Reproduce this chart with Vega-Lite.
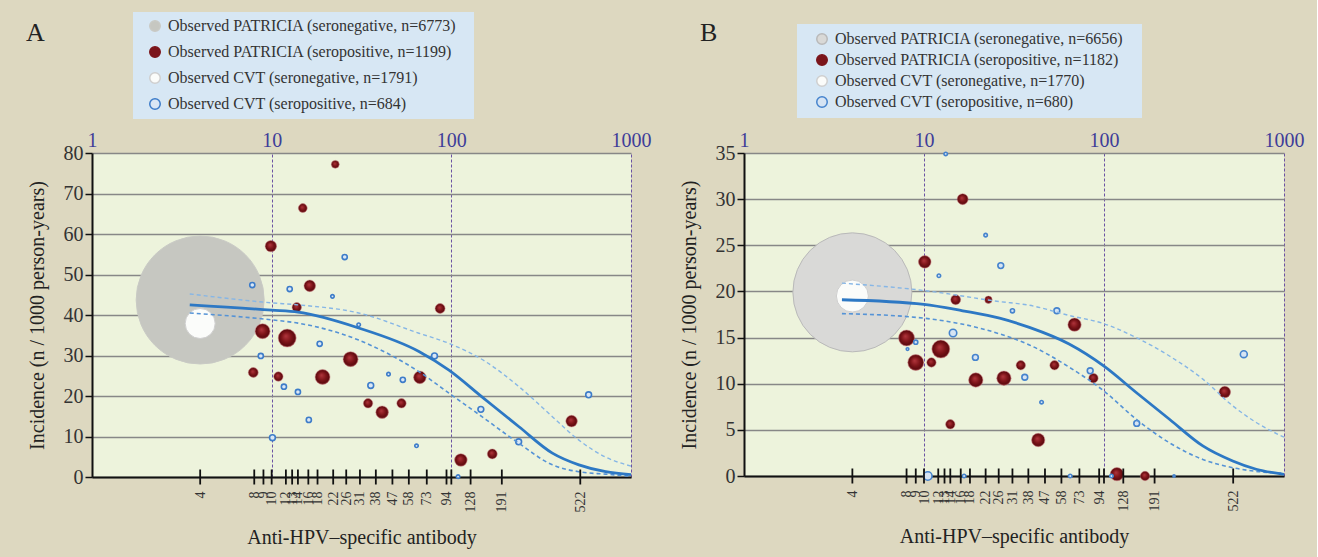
{
  "$schema": "https://vega.github.io/schema/vega-lite/v6.json",
  "background": "#ddd8c0",
  "padding": {"left": 26, "top": 12, "right": 13, "bottom": 10},
  "bounds": "flush",
  "spacing": 113,
  "resolve": {"scale": {"x": "independent", "y": "independent", "fill": "independent", "stroke": "independent", "size": "independent"}},
  "config": {
    "font": "Liberation Serif",
    "view": {"fill": "#edf3dc", "stroke": null},
    "axis": {"labelFont": "Liberation Serif", "titleFont": "Liberation Serif", "titleFontWeight": "normal", "labelColor": "#333333", "titleColor": "#222222"},
    "legend": {"labelFont": "Liberation Serif", "labelFontSize": 16, "labelColor": "#333333", "labelLimit": 600, "symbolType": "circle", "symbolSize": 110, "symbolStrokeWidth": 1.5, "fillColor": "#d7e7f4",
      "titleOrient": "right", "titlePadding": 8, "titleOpacity": 0, "titleFontSize": 16, "titleFont": "Liberation Serif"},
    "title": {"font": "Liberation Serif", "fontSize": 26, "fontWeight": "normal", "color": "#222222"}
  },
  "datasets": {
    "ticks": [
      {"ab": 4}, {"ab": 8}, {"ab": 9}, {"ab": 10}, {"ab": 12}, {"ab": 13}, {"ab": 14}, {"ab": 16}, {"ab": 18}, {"ab": 22},
      {"ab": 26}, {"ab": 31}, {"ab": 38}, {"ab": 47}, {"ab": 58}, {"ab": 73}, {"ab": 94}, {"ab": 100}, {"ab": 128}, {"ab": 191}, {"ab": 522}
    ],
    "A_pts": [
      {"series": "PATRICIA_neg", "ab": 4, "inc": 43.7, "n": 6773},
      {"series": "CVT_neg", "ab": 4, "inc": 37.9, "n": 372},
      {"series": "PATRICIA_pos", "ab": 22.6, "inc": 77.2, "n": 26},
      {"series": "PATRICIA_pos", "ab": 14.9, "inc": 66.4, "n": 33},
      {"series": "PATRICIA_pos", "ab": 9.9, "inc": 57.0, "n": 54},
      {"series": "PATRICIA_pos", "ab": 16.3, "inc": 47.2, "n": 56},
      {"series": "PATRICIA_pos", "ab": 13.8, "inc": 41.9, "n": 37},
      {"series": "PATRICIA_pos", "ab": 86.6, "inc": 41.6, "n": 41},
      {"series": "PATRICIA_pos", "ab": 8.9, "inc": 36.0, "n": 93},
      {"series": "PATRICIA_pos", "ab": 12.2, "inc": 34.3, "n": 134},
      {"series": "PATRICIA_pos", "ab": 27.5, "inc": 29.1, "n": 93},
      {"series": "PATRICIA_pos", "ab": 7.9, "inc": 25.8, "n": 41},
      {"series": "PATRICIA_pos", "ab": 10.9, "inc": 24.8, "n": 37},
      {"series": "PATRICIA_pos", "ab": 19.2, "inc": 24.7, "n": 93},
      {"series": "PATRICIA_pos", "ab": 66.8, "inc": 24.6, "n": 66},
      {"series": "PATRICIA_pos", "ab": 34.4, "inc": 18.2, "n": 37},
      {"series": "PATRICIA_pos", "ab": 52.8, "inc": 18.2, "n": 37},
      {"series": "PATRICIA_pos", "ab": 41.2, "inc": 16.0, "n": 66},
      {"series": "PATRICIA_pos", "ab": 113, "inc": 4.2, "n": 66},
      {"series": "PATRICIA_pos", "ab": 169, "inc": 5.7, "n": 41},
      {"series": "PATRICIA_pos", "ab": 467, "inc": 13.8, "n": 56},
      {"series": "CVT_pos", "ab": 25.5, "inc": 54.3, "n": 11},
      {"series": "CVT_pos", "ab": 7.8, "inc": 47.4, "n": 11},
      {"series": "CVT_pos", "ab": 12.6, "inc": 46.4, "n": 11},
      {"series": "CVT_pos", "ab": 21.8, "inc": 44.6, "n": 5},
      {"series": "CVT_pos", "ab": 30.5, "inc": 37.6, "n": 5},
      {"series": "CVT_pos", "ab": 18.5, "inc": 32.9, "n": 11},
      {"series": "CVT_pos", "ab": 8.7, "inc": 29.9, "n": 11},
      {"series": "CVT_pos", "ab": 11.7, "inc": 22.3, "n": 11},
      {"series": "CVT_pos", "ab": 14.0, "inc": 21.0, "n": 11},
      {"series": "CVT_pos", "ab": 35.6, "inc": 22.6, "n": 14},
      {"series": "CVT_pos", "ab": 16.1, "inc": 14.1, "n": 11},
      {"series": "CVT_pos", "ab": 10.1, "inc": 9.7, "n": 14},
      {"series": "CVT_pos", "ab": 44.7, "inc": 25.4, "n": 5},
      {"series": "CVT_pos", "ab": 53.7, "inc": 24.0, "n": 11},
      {"series": "CVT_pos", "ab": 80.6, "inc": 29.9, "n": 14},
      {"series": "CVT_pos", "ab": 64, "inc": 7.7, "n": 5},
      {"series": "CVT_pos", "ab": 109, "inc": 0.1, "n": 5},
      {"series": "CVT_pos", "ab": 146, "inc": 16.7, "n": 14},
      {"series": "CVT_pos", "ab": 237, "inc": 8.7, "n": 14},
      {"series": "CVT_pos", "ab": 581, "inc": 20.3, "n": 14}
    ],
    "A_curves": [
      {"curve": "fit", "ab": 3.5, "inc": 42.5}, {"curve": "fit", "ab": 10, "inc": 41.2}, {"curve": "fit", "ab": 14, "inc": 40.7},
      {"curve": "fit", "ab": 30.5, "inc": 36.8}, {"curve": "fit", "ab": 66, "inc": 31.0}, {"curve": "fit", "ab": 97, "inc": 26.4},
      {"curve": "fit", "ab": 148, "inc": 19.8}, {"curve": "fit", "ab": 238, "inc": 12.4}, {"curve": "fit", "ab": 365, "inc": 5.9},
      {"curve": "fit", "ab": 513, "inc": 3.0}, {"curve": "fit", "ab": 723, "inc": 1.3}, {"curve": "fit", "ab": 1000, "inc": 0.6},
      {"curve": "upper", "ab": 3.5, "inc": 45.2}, {"curve": "upper", "ab": 10, "inc": 43.0}, {"curve": "upper", "ab": 14, "inc": 42.5},
      {"curve": "upper", "ab": 30.5, "inc": 40.5}, {"curve": "upper", "ab": 66, "inc": 35.5}, {"curve": "upper", "ab": 97, "inc": 33.0},
      {"curve": "upper", "ab": 155, "inc": 28.5}, {"curve": "upper", "ab": 238, "inc": 22.3}, {"curve": "upper", "ab": 365, "inc": 14.9},
      {"curve": "upper", "ab": 513, "inc": 9.1}, {"curve": "upper", "ab": 723, "inc": 4.9}, {"curve": "upper", "ab": 1000, "inc": 2.7},
      {"curve": "lower", "ab": 3.5, "inc": 40.5}, {"curve": "lower", "ab": 10, "inc": 38.8}, {"curve": "lower", "ab": 14, "inc": 38.0},
      {"curve": "lower", "ab": 30.5, "inc": 33.8}, {"curve": "lower", "ab": 66, "inc": 26.0}, {"curve": "lower", "ab": 97, "inc": 20.7},
      {"curve": "lower", "ab": 148, "inc": 14.9}, {"curve": "lower", "ab": 238, "inc": 8.3}, {"curve": "lower", "ab": 365, "inc": 3.0},
      {"curve": "lower", "ab": 513, "inc": 1.3}, {"curve": "lower", "ab": 723, "inc": 0.7}, {"curve": "lower", "ab": 1000, "inc": 0.2}
    ],
    "B_pts": [
      {"series": "PATRICIA_neg", "ab": 4, "inc": 19.9, "n": 5854},
      {"series": "CVT_neg", "ab": 4, "inc": 19.5, "n": 423},
      {"series": "PATRICIA_pos", "ab": 16.4, "inc": 30.0, "n": 50},
      {"series": "PATRICIA_pos", "ab": 10.1, "inc": 23.2, "n": 66},
      {"series": "PATRICIA_pos", "ab": 15.0, "inc": 19.1, "n": 41},
      {"series": "PATRICIA_pos", "ab": 22.8, "inc": 19.1, "n": 23},
      {"series": "PATRICIA_pos", "ab": 8.0, "inc": 14.95, "n": 106},
      {"series": "PATRICIA_pos", "ab": 12.4, "inc": 13.75, "n": 134},
      {"series": "PATRICIA_pos", "ab": 9.0, "inc": 12.3, "n": 106},
      {"series": "PATRICIA_pos", "ab": 11.0, "inc": 12.3, "n": 37},
      {"series": "PATRICIA_pos", "ab": 34.5, "inc": 12.0, "n": 37},
      {"series": "PATRICIA_pos", "ab": 19.4, "inc": 10.4, "n": 86},
      {"series": "PATRICIA_pos", "ab": 27.8, "inc": 10.6, "n": 86},
      {"series": "PATRICIA_pos", "ab": 14.0, "inc": 5.6, "n": 37},
      {"series": "PATRICIA_pos", "ab": 68.6, "inc": 16.4, "n": 74},
      {"series": "PATRICIA_pos", "ab": 53.1, "inc": 12.0, "n": 37},
      {"series": "PATRICIA_pos", "ab": 87.4, "inc": 10.6, "n": 37},
      {"series": "PATRICIA_pos", "ab": 43.1, "inc": 3.9, "n": 74},
      {"series": "PATRICIA_pos", "ab": 118, "inc": 0.2, "n": 74},
      {"series": "PATRICIA_pos", "ab": 169, "inc": 0, "n": 37},
      {"series": "PATRICIA_pos", "ab": 469, "inc": 9.1, "n": 56},
      {"series": "CVT_pos", "ab": 13.2, "inc": 34.9, "n": 5},
      {"series": "CVT_pos", "ab": 22.0, "inc": 26.1, "n": 5},
      {"series": "CVT_pos", "ab": 12.1, "inc": 21.7, "n": 5},
      {"series": "CVT_pos", "ab": 26.7, "inc": 22.8, "n": 14},
      {"series": "CVT_pos", "ab": 31.0, "inc": 17.9, "n": 7},
      {"series": "CVT_pos", "ab": 14.5, "inc": 15.5, "n": 23},
      {"series": "CVT_pos", "ab": 9.0, "inc": 14.5, "n": 7},
      {"series": "CVT_pos", "ab": 8.1, "inc": 13.75, "n": 3},
      {"series": "CVT_pos", "ab": 19.3, "inc": 12.85, "n": 14},
      {"series": "CVT_pos", "ab": 36.3, "inc": 10.7, "n": 14},
      {"series": "CVT_pos", "ab": 10.5, "inc": 0, "n": 30},
      {"series": "CVT_pos", "ab": 16.7, "inc": 0, "n": 5},
      {"series": "CVT_pos", "ab": 54.7, "inc": 17.9, "n": 14},
      {"series": "CVT_pos", "ab": 45, "inc": 8.0, "n": 5},
      {"series": "CVT_pos", "ab": 83.8, "inc": 11.4, "n": 14},
      {"series": "CVT_pos", "ab": 64.9, "inc": 0, "n": 5},
      {"series": "CVT_pos", "ab": 110, "inc": 0, "n": 5},
      {"series": "CVT_pos", "ab": 152, "inc": 5.7, "n": 14},
      {"series": "CVT_pos", "ab": 245, "inc": 0, "n": 2},
      {"series": "CVT_pos", "ab": 598, "inc": 13.2, "n": 20}
    ],
    "B_curves": [
      {"curve": "fit", "ab": 3.5, "inc": 19.1}, {"curve": "fit", "ab": 10, "inc": 18.6}, {"curve": "fit", "ab": 16.4, "inc": 17.9},
      {"curve": "fit", "ab": 26.3, "inc": 17.1}, {"curve": "fit", "ab": 38.5, "inc": 16.1}, {"curve": "fit", "ab": 64, "inc": 14.3},
      {"curve": "fit", "ab": 100, "inc": 11.9}, {"curve": "fit", "ab": 151, "inc": 9.05}, {"curve": "fit", "ab": 231, "inc": 6.15},
      {"curve": "fit", "ab": 354, "inc": 3.26}, {"curve": "fit", "ab": 519, "inc": 1.63}, {"curve": "fit", "ab": 701, "inc": 0.73},
      {"curve": "fit", "ab": 1000, "inc": 0.18},
      {"curve": "upper", "ab": 3.5, "inc": 20.9}, {"curve": "upper", "ab": 10, "inc": 20.1}, {"curve": "upper", "ab": 26.3, "inc": 18.9},
      {"curve": "upper", "ab": 38.5, "inc": 18.5}, {"curve": "upper", "ab": 64, "inc": 17.4}, {"curve": "upper", "ab": 100, "inc": 16.5},
      {"curve": "upper", "ab": 151, "inc": 15.0}, {"curve": "upper", "ab": 231, "inc": 13.0}, {"curve": "upper", "ab": 354, "inc": 10.5},
      {"curve": "upper", "ab": 519, "inc": 7.6}, {"curve": "upper", "ab": 701, "inc": 5.8}, {"curve": "upper", "ab": 1000, "inc": 4.2},
      {"curve": "lower", "ab": 3.5, "inc": 17.6}, {"curve": "lower", "ab": 10, "inc": 17.1}, {"curve": "lower", "ab": 26.3, "inc": 15.4},
      {"curve": "lower", "ab": 38.5, "inc": 14.2}, {"curve": "lower", "ab": 64, "inc": 11.8}, {"curve": "lower", "ab": 100, "inc": 9.2},
      {"curve": "lower", "ab": 151, "inc": 6.15}, {"curve": "lower", "ab": 231, "inc": 3.6}, {"curve": "lower", "ab": 354, "inc": 1.8},
      {"curve": "lower", "ab": 519, "inc": 0.9}, {"curve": "lower", "ab": 701, "inc": 0.5}, {"curve": "lower", "ab": 1000, "inc": 0.3}
    ]
  },
  "hconcat": [
    {
      "width": 539,
      "height": 324,
      "title": {"text": "A", "anchor": "start", "frame": "group", "dx": -66, "dy": 38},
      "layer": [
        {
          "data": {"name": "A_pts"},
          "transform": [{"filter": "datum.series == 'PATRICIA_neg'"}],
          "mark": {"type": "circle", "opacity": 1, "strokeWidth": 1},
          "encoding": {
            "x": {"field": "ab", "type": "quantitative", "scale": {"type": "log", "domain": [1, 1000], "nice": false}, "axis": null},
            "y": {"field": "inc", "type": "quantitative", "scale": {"domain": [0, 80], "nice": false},
              "axis": {"orient": "left", "values": [0, 10, 20, 30, 40, 50, 60, 70, 80], "grid": true, "gridColor": "#878787", "gridWidth": 1.6,
                "domain": true, "domainColor": "#111111", "domainWidth": 2, "ticks": true, "tickColor": "#111111", "tickSize": 7, "tickWidth": 1.5,
                "labelFontSize": 20, "labelPadding": 2, "title": "Incidence (n / 1000 person-years)", "titleFontSize": 20, "titlePadding": 16}},
            "size": {"field": "n", "type": "quantitative", "scale": {"type": "linear", "domain": [0, 6773], "range": [0, 16384]}, "legend": null},
            "fill": {"field": "series", "type": "nominal",
              "scale": {"domain": ["PATRICIA_neg", "PATRICIA_pos", "CVT_neg", "CVT_pos"], "range": ["#c6c7c1", "#7b151b", "#fbfcfa", "#dae7f5"]},
              "legend": {"orient": "none", "legendX": 41, "legendY": -141, "title": ".", "padding": 6, "rowPadding": 8, "symbolOffset": 8, "labelOffset": 5,
                "labelExpr": "datum.value == 'PATRICIA_neg' ? 'Observed PATRICIA (seronegative, n=6773)' : datum.value == 'PATRICIA_pos' ? 'Observed PATRICIA (seropositive, n=1199)' : datum.value == 'CVT_neg' ? 'Observed CVT (seronegative, n=1791)' : 'Observed CVT (seropositive, n=684)'"}},
            "stroke": {"field": "series", "type": "nominal",
              "scale": {"domain": ["PATRICIA_neg", "PATRICIA_pos", "CVT_neg", "CVT_pos"], "range": ["#c9cac5", "#7b151b", "#cfcfcf", "#3d7cc9"]},
              "legend": {"orient": "none", "legendX": 41, "legendY": -141, "title": ".", "padding": 6, "rowPadding": 8, "symbolOffset": 8, "labelOffset": 5,
                "labelExpr": "datum.value == 'PATRICIA_neg' ? 'Observed PATRICIA (seronegative, n=6773)' : datum.value == 'PATRICIA_pos' ? 'Observed PATRICIA (seropositive, n=1199)' : datum.value == 'CVT_neg' ? 'Observed CVT (seronegative, n=1791)' : 'Observed CVT (seropositive, n=684)'"}}
          }
        },
        {
          "data": {"name": "A_pts"},
          "transform": [{"filter": "datum.series == 'CVT_neg'"}],
          "mark": {"type": "circle", "opacity": 1, "strokeWidth": 1},
          "encoding": {
            "x": {"field": "ab", "type": "quantitative", "scale": {"type": "log", "domain": [1, 1000], "nice": false}, "axis": null},
            "y": {"field": "inc", "type": "quantitative", "scale": {"domain": [0, 80], "nice": false}},
            "size": {"field": "n", "type": "quantitative", "scale": {"type": "linear", "domain": [0, 6773], "range": [0, 16384]}, "legend": null},
            "fill": {"field": "series", "type": "nominal", "scale": {"domain": ["PATRICIA_neg", "PATRICIA_pos", "CVT_neg", "CVT_pos"], "range": ["#c6c7c1", "#7b151b", "#fbfcfa", "#dae7f5"]}},
            "stroke": {"field": "series", "type": "nominal", "scale": {"domain": ["PATRICIA_neg", "PATRICIA_pos", "CVT_neg", "CVT_pos"], "range": ["#c9cac5", "#7b151b", "#cfcfcf", "#3d7cc9"]}}
          }
        },
        {
          "data": {"name": "A_pts"},
          "transform": [{"filter": "datum.series == 'PATRICIA_pos'"}],
          "mark": {"type": "circle", "opacity": 1,
            "fill": {"gradient": "radial", "x1": 0.42, "y1": 0.38, "r1": 0, "x2": 0.5, "y2": 0.5, "r2": 0.5,
              "stops": [{"offset": 0, "color": "#b2363d"}, {"offset": 0.55, "color": "#7d1419"}, {"offset": 0.88, "color": "#5d0a0f"}, {"offset": 1, "color": "#9a3a40"}]},
            "stroke": "#c27a7c", "strokeWidth": 0.6, "strokeOpacity": 0.7},
          "encoding": {
            "x": {"field": "ab", "type": "quantitative", "scale": {"type": "log", "domain": [1, 1000], "nice": false}, "axis": null},
            "y": {"field": "inc", "type": "quantitative", "scale": {"domain": [0, 80], "nice": false}},
            "size": {"field": "n", "type": "quantitative", "scale": {"type": "linear", "domain": [0, 6773], "range": [0, 16384]}, "legend": null}
          }
        },
        {
          "data": {"name": "A_pts"},
          "transform": [{"filter": "datum.series == 'CVT_pos'"}],
          "mark": {"type": "circle", "opacity": 1, "strokeWidth": 1.6},
          "encoding": {
            "x": {"field": "ab", "type": "quantitative", "scale": {"type": "log", "domain": [1, 1000], "nice": false}, "axis": null},
            "y": {"field": "inc", "type": "quantitative", "scale": {"domain": [0, 80], "nice": false}},
            "size": {"field": "n", "type": "quantitative", "scale": {"type": "linear", "domain": [0, 6773], "range": [0, 16384]}, "legend": null},
            "fill": {"field": "series", "type": "nominal", "scale": {"domain": ["PATRICIA_neg", "PATRICIA_pos", "CVT_neg", "CVT_pos"], "range": ["#c6c7c1", "#7b151b", "#fbfcfa", "#dae7f5"]}},
            "stroke": {"field": "series", "type": "nominal", "scale": {"domain": ["PATRICIA_neg", "PATRICIA_pos", "CVT_neg", "CVT_pos"], "range": ["#c9cac5", "#7b151b", "#cfcfcf", "#3d7cc9"]}}
          }
        },
        {
          "data": {"name": "A_curves"},
          "transform": [{"filter": "datum.curve == 'lower'"}],
          "mark": {"type": "line", "interpolate": "monotone", "color": "#5593d6", "strokeWidth": 1.6, "strokeDash": [4, 3]},
          "encoding": {
            "x": {"field": "ab", "type": "quantitative", "scale": {"type": "log", "domain": [1, 1000], "nice": false}, "axis": null},
            "y": {"field": "inc", "type": "quantitative", "scale": {"domain": [0, 80], "nice": false}}
          }
        },
        {
          "data": {"name": "A_curves"},
          "transform": [{"filter": "datum.curve == 'upper'"}],
          "mark": {"type": "line", "interpolate": "monotone", "color": "#86b6e6", "strokeWidth": 1.4, "strokeDash": [4, 3]},
          "encoding": {
            "x": {"field": "ab", "type": "quantitative", "scale": {"type": "log", "domain": [1, 1000], "nice": false}, "axis": null},
            "y": {"field": "inc", "type": "quantitative", "scale": {"domain": [0, 80], "nice": false}}
          }
        },
        {
          "data": {"name": "A_curves"},
          "transform": [{"filter": "datum.curve == 'fit'"}],
          "mark": {"type": "line", "interpolate": "monotone", "color": "#2d78c4", "strokeWidth": 2.8},
          "encoding": {
            "x": {"field": "ab", "type": "quantitative", "scale": {"type": "log", "domain": [1, 1000], "nice": false},
              "axis": {"orient": "top", "values": [1, 10, 100, 1000], "format": "d", "labelFontSize": 20, "labelColor": "#3d3d99", "labelPadding": 3,
                "labelFlush": false, "labelOverlap": false, "ticks": false, "domain": false, "grid": true, "gridColor": "#6b52a3", "gridDash": [3, 2], "gridWidth": 1, "title": null}},
            "y": {"field": "inc", "type": "quantitative", "scale": {"domain": [0, 80], "nice": false}}
          }
        },
        {
          "data": {"name": "ticks"},
          "mark": {"type": "tick", "orient": "vertical", "size": 15, "thickness": 1.8, "color": "#111111", "opacity": 1},
          "encoding": {
            "x": {"field": "ab", "type": "quantitative", "scale": {"type": "log", "domain": [1, 1000], "nice": false},
              "axis": {"orient": "bottom", "values": [4, 8, 9, 10, 12, 13, 14, 16, 18, 22, 26, 31, 38, 47, 58, 73, 94, 128, 191, 522], "format": "d",
                "labelAngle": -90, "labelFontSize": 14, "labelPadding": 14, "labelOverlap": false, "labelBound": false, "labelFlush": false,
                "ticks": false, "grid": false, "domain": true, "domainColor": "#111111", "domainWidth": 2,
                "title": "Anti-HPV–specific antibody", "titleFontSize": 20, "titlePadding": 15}},
            "y": {"datum": 0, "type": "quantitative", "scale": {"domain": [0, 80], "nice": false}}
          }
        }
      ]
    },
    {
      "width": 540,
      "height": 323,
      "title": {"text": "B", "anchor": "start", "frame": "group", "dx": -44, "dy": 26},
      "layer": [
        {
          "data": {"name": "B_pts"},
          "transform": [{"filter": "datum.series == 'PATRICIA_neg'"}],
          "mark": {"type": "circle", "opacity": 1, "strokeWidth": 1},
          "encoding": {
            "x": {"field": "ab", "type": "quantitative", "scale": {"type": "log", "domain": [1, 1000], "nice": false}, "axis": null},
            "y": {"field": "inc", "type": "quantitative", "scale": {"domain": [0, 35], "nice": false},
              "axis": {"orient": "left", "values": [0, 5, 10, 15, 20, 25, 30, 35], "grid": true, "gridColor": "#878787", "gridWidth": 1.6,
                "domain": true, "domainColor": "#111111", "domainWidth": 2, "ticks": true, "tickColor": "#111111", "tickSize": 7, "tickWidth": 1.5,
                "labelFontSize": 20, "labelPadding": 2, "title": "Incidence (n / 1000 person-years)", "titleFontSize": 20, "titlePadding": 16}},
            "size": {"field": "n", "type": "quantitative", "scale": {"type": "linear", "domain": [0, 6773], "range": [0, 16384]}, "legend": null},
            "fill": {"field": "series", "type": "nominal",
              "scale": {"domain": ["PATRICIA_neg", "PATRICIA_pos", "CVT_neg", "CVT_pos"], "range": ["#d9d9d7", "#7b151b", "#fbfcfa", "#d6e4f3"]},
              "legend": {"orient": "none", "legendX": 53, "legendY": -129, "title": ".", "padding": 7, "rowPadding": 3, "symbolOffset": 10, "labelOffset": 5,
                "labelExpr": "datum.value == 'PATRICIA_neg' ? 'Observed PATRICIA (seronegative, n=6656)' : datum.value == 'PATRICIA_pos' ? 'Observed PATRICIA (seropositive, n=1182)' : datum.value == 'CVT_neg' ? 'Observed CVT (seronegative, n=1770)' : 'Observed CVT (seropositive, n=680)'"}},
            "stroke": {"field": "series", "type": "nominal",
              "scale": {"domain": ["PATRICIA_neg", "PATRICIA_pos", "CVT_neg", "CVT_pos"], "range": ["#b9b9b9", "#7b151b", "#cfcfcf", "#4583cd"]},
              "legend": {"orient": "none", "legendX": 53, "legendY": -129, "title": ".", "padding": 7, "rowPadding": 3, "symbolOffset": 10, "labelOffset": 5,
                "labelExpr": "datum.value == 'PATRICIA_neg' ? 'Observed PATRICIA (seronegative, n=6656)' : datum.value == 'PATRICIA_pos' ? 'Observed PATRICIA (seropositive, n=1182)' : datum.value == 'CVT_neg' ? 'Observed CVT (seronegative, n=1770)' : 'Observed CVT (seropositive, n=680)'"}}
          }
        },
        {
          "data": {"name": "B_pts"},
          "transform": [{"filter": "datum.series == 'CVT_neg'"}],
          "mark": {"type": "circle", "opacity": 1, "strokeWidth": 1},
          "encoding": {
            "x": {"field": "ab", "type": "quantitative", "scale": {"type": "log", "domain": [1, 1000], "nice": false}, "axis": null},
            "y": {"field": "inc", "type": "quantitative", "scale": {"domain": [0, 35], "nice": false}},
            "size": {"field": "n", "type": "quantitative", "scale": {"type": "linear", "domain": [0, 6773], "range": [0, 16384]}, "legend": null},
            "fill": {"field": "series", "type": "nominal", "scale": {"domain": ["PATRICIA_neg", "PATRICIA_pos", "CVT_neg", "CVT_pos"], "range": ["#d9d9d7", "#7b151b", "#fbfcfa", "#d6e4f3"]}},
            "stroke": {"field": "series", "type": "nominal", "scale": {"domain": ["PATRICIA_neg", "PATRICIA_pos", "CVT_neg", "CVT_pos"], "range": ["#b9b9b9", "#7b151b", "#cfcfcf", "#4583cd"]}}
          }
        },
        {
          "data": {"name": "B_pts"},
          "transform": [{"filter": "datum.series == 'PATRICIA_pos'"}],
          "mark": {"type": "circle", "opacity": 1,
            "fill": {"gradient": "radial", "x1": 0.42, "y1": 0.38, "r1": 0, "x2": 0.5, "y2": 0.5, "r2": 0.5,
              "stops": [{"offset": 0, "color": "#b2363d"}, {"offset": 0.55, "color": "#7d1419"}, {"offset": 0.88, "color": "#5d0a0f"}, {"offset": 1, "color": "#9a3a40"}]},
            "stroke": "#c27a7c", "strokeWidth": 0.6, "strokeOpacity": 0.7},
          "encoding": {
            "x": {"field": "ab", "type": "quantitative", "scale": {"type": "log", "domain": [1, 1000], "nice": false}, "axis": null},
            "y": {"field": "inc", "type": "quantitative", "scale": {"domain": [0, 35], "nice": false}},
            "size": {"field": "n", "type": "quantitative", "scale": {"type": "linear", "domain": [0, 6773], "range": [0, 16384]}, "legend": null}
          }
        },
        {
          "data": {"name": "B_pts"},
          "transform": [{"filter": "datum.series == 'CVT_pos'"}],
          "mark": {"type": "circle", "opacity": 1, "strokeWidth": 1.6},
          "encoding": {
            "x": {"field": "ab", "type": "quantitative", "scale": {"type": "log", "domain": [1, 1000], "nice": false}, "axis": null},
            "y": {"field": "inc", "type": "quantitative", "scale": {"domain": [0, 35], "nice": false}},
            "size": {"field": "n", "type": "quantitative", "scale": {"type": "linear", "domain": [0, 6773], "range": [0, 16384]}, "legend": null},
            "fill": {"field": "series", "type": "nominal", "scale": {"domain": ["PATRICIA_neg", "PATRICIA_pos", "CVT_neg", "CVT_pos"], "range": ["#d9d9d7", "#7b151b", "#fbfcfa", "#d6e4f3"]}},
            "stroke": {"field": "series", "type": "nominal", "scale": {"domain": ["PATRICIA_neg", "PATRICIA_pos", "CVT_neg", "CVT_pos"], "range": ["#b9b9b9", "#7b151b", "#cfcfcf", "#4583cd"]}}
          }
        },
        {
          "data": {"name": "B_curves"},
          "transform": [{"filter": "datum.curve == 'lower'"}],
          "mark": {"type": "line", "interpolate": "monotone", "color": "#5593d6", "strokeWidth": 1.6, "strokeDash": [4, 3]},
          "encoding": {
            "x": {"field": "ab", "type": "quantitative", "scale": {"type": "log", "domain": [1, 1000], "nice": false}, "axis": null},
            "y": {"field": "inc", "type": "quantitative", "scale": {"domain": [0, 35], "nice": false}}
          }
        },
        {
          "data": {"name": "B_curves"},
          "transform": [{"filter": "datum.curve == 'upper'"}],
          "mark": {"type": "line", "interpolate": "monotone", "color": "#86b6e6", "strokeWidth": 1.4, "strokeDash": [4, 3]},
          "encoding": {
            "x": {"field": "ab", "type": "quantitative", "scale": {"type": "log", "domain": [1, 1000], "nice": false}, "axis": null},
            "y": {"field": "inc", "type": "quantitative", "scale": {"domain": [0, 35], "nice": false}}
          }
        },
        {
          "data": {"name": "B_curves"},
          "transform": [{"filter": "datum.curve == 'fit'"}],
          "mark": {"type": "line", "interpolate": "monotone", "color": "#2d78c4", "strokeWidth": 2.8},
          "encoding": {
            "x": {"field": "ab", "type": "quantitative", "scale": {"type": "log", "domain": [1, 1000], "nice": false},
              "axis": {"orient": "top", "values": [1, 10, 100, 1000], "format": "d", "labelFontSize": 20, "labelColor": "#3d3d99", "labelPadding": 3,
                "labelFlush": false, "labelOverlap": false, "ticks": false, "domain": false, "grid": true, "gridColor": "#6b52a3", "gridDash": [3, 2], "gridWidth": 1, "title": null}},
            "y": {"field": "inc", "type": "quantitative", "scale": {"domain": [0, 35], "nice": false}}
          }
        },
        {
          "data": {"name": "ticks"},
          "mark": {"type": "tick", "orient": "vertical", "size": 15, "thickness": 1.8, "color": "#111111", "opacity": 1},
          "encoding": {
            "x": {"field": "ab", "type": "quantitative", "scale": {"type": "log", "domain": [1, 1000], "nice": false},
              "axis": {"orient": "bottom", "values": [4, 8, 9, 10, 12, 13, 14, 16, 18, 22, 26, 31, 38, 47, 58, 73, 94, 128, 191, 522], "format": "d",
                "labelAngle": -90, "labelFontSize": 14, "labelPadding": 14, "labelOverlap": false, "labelBound": false, "labelFlush": false,
                "ticks": false, "grid": false, "domain": true, "domainColor": "#111111", "domainWidth": 2,
                "title": "Anti-HPV–specific antibody", "titleFontSize": 20, "titlePadding": 15}},
            "y": {"datum": 0, "type": "quantitative", "scale": {"domain": [0, 35], "nice": false}}
          }
        }
      ]
    }
  ]
}
